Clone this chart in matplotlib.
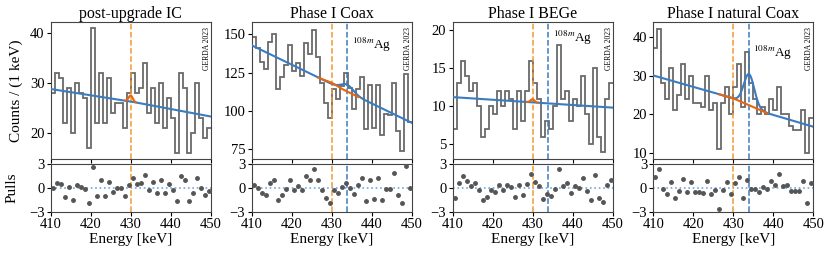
import numpy as np
import matplotlib.pyplot as plt

plt.rcParams['font.family'] = ['Liberation Serif', 'DejaVu Serif']
plt.rcParams['mathtext.fontset'] = 'stix'

# ---- data ----
edges = np.arange(410, 451, 1)
centers = edges[:-1] + 0.5

titles = ["post-upgrade IC", "Phase I Coax", "Phase I BEGe", "Phase I natural Coax"]

counts_ic = [28, 32, 31, 22, 29, 20, 30, 28, 27, 17, 41, 22, 32, 22, 31, 24, 26, 26, 21, 28,
             32, 28, 29, 34, 24, 29, 22, 30, 21, 27, 23, 16, 32, 29, 16, 20, 30, 23, 19, 21]
counts_coax = [148, 141, 132, 127, 145, 150, 114, 122, 130, 143, 126, 131, 123, 144, 137, 153, 135, 118, 105, 95,
               114, 108, 116, 125, 115, 101, 114, 122, 88, 117, 89, 117, 84, 98, 97, 118, 87, 74, 124, 93]
counts_bege = [7, 13, 16, 14, 12, 13, 10, 6, 7, 10, 9, 12, 10, 12, 11, 7, 12, 8, 12, 16,
               13, 11, 6, 8, 7, 10, 18, 11, 12, 8, 11, 10, 14, 9, 5, 15, 6, 4, 11, 13]
counts_nat = [37, 42, 28, 24, 32, 21, 25, 33, 24, 30, 23, 23, 22, 30, 21, 23, 11, 23, 27, 20,
              27, 33, 22, 36, 28, 24, 20, 22, 20, 24, 21, 27, 20, 20, 17, 16, 16, 21, 10, 19]

pulls_ic = [-0.04, 0.68, 0.51, -1.11, 0.17, -1.44, 0.42, 0.09, -0.09, -1.86, 2.57, -0.94, 0.94, -0.94, 0.80,
            -0.47, -0.04, -0.04, -0.97, 0.42, 1.19, 0.51, 0.68, 1.68, -0.21, 0.77, -0.59, 0.97, -0.68, 0.55,
            -0.30, -1.65, 1.53, 0.97, -1.58, -0.68, 1.27, -0.04, -0.85, -0.42]
pulls_coax = [0.42, 0.04, -0.59, -0.85, 0.59, 1.06, -1.53, -0.85, -0.12, 0.94, -0.30, 0.21, -0.30, 1.49, 0.97,
              2.34, 1.02, -0.21, -1.19, -1.86, -0.26, -0.64, 0.17, 0.64, 0.04, -0.81, 0.42, 1.23, -1.62, 0.97,
              -1.33, 1.23, -1.53, -0.17, -0.17, 1.82, -0.89, -1.91, 2.72, 0.0]
pulls_bege = [-1.2, 0.6, 1.5, 0.9, 0.3, 0.6, -0.3, -1.46, -1.1, -0.2, -0.55, 0.4, -0.26, 0.43, 0.17,
              -1.1, 0.43, -0.86, 0.47, 1.7, 0.77, 0.2, -1.33, -0.7, -1.0, -0.1, 2.4, 0.26, 0.64, -0.6,
              0.26, 0.0, 1.24, -0.39, -1.55, 1.6, -1.24, -1.8, 0.4, 1.03]
pulls_nat = [1.37, 2.36, -0.13, -0.8, 0.73, -1.24, -0.43, 1.1, -0.5, 0.7, -0.55, -0.55, -0.6, 0.9, -0.77,
             -0.3, -2.66, -0.2, 0.7, -0.7, 0.64, 1.4, -1.2, 1.03, -0.17, -0.17, -0.5, 0.13, -0.1, 0.9,
             0.34, 1.76, 0.3, 0.34, -0.39, -0.39, -0.39, 0.9, -1.85, 0.64]

# fitted model (background knots + gaussian peaks)
bkg_e = [[410, 430, 450], [410, 450], [410, 450], [410, 430, 438.5, 450]]
bkg_v = [[28.8, 26.3, 23.3], [142.8, 92.2], [11.2, 9.82], [30.0, 24.1, 20.3, 16.8]]
sig_amp = [1.2, 0.8, 0.4, 0.0]
sig_width = [0.5, 1.3, 0.5, 1.3]
ag_amp = [0.0, 4.5, 0.0, 8.0]
ag_width = [1.5, 1.5, 1.5, 1.3]
orange_window = [(428.7, 431.3), (426.7, 436.7), (428.7, 431.3), (426.5, 438.5)]
has_ag = [False, True, True, True]
ag_label_y = [None, 0.835, 0.886, 0.776]

ylims = [(14.8, 42.1), (68.5, 157.7), (3.07, 21.0), (8.5, 43.65)]
yticks = [[20, 30, 40], [75, 100, 125, 150], [5, 10, 15, 20], [10, 20, 30, 40]]

all_counts = [counts_ic, counts_coax, counts_bege, counts_nat]
all_pulls = [pulls_ic, pulls_coax, pulls_bege, pulls_nat]

E_SIG = 430.0
E_AG = 433.9

c_hist = '#6a6a6a'
c_blue = '#3a7cc0'
c_orange = '#e8650e'
c_dash_or = '#f29a2e'
c_dash_bl = '#3a7cc0'

fig = plt.figure(figsize=(8.31, 2.58), dpi=100)
W, H = 831.0, 258.0

for i in range(4):
    left = (50.7 + 200.9 * i) / W
    ax = fig.add_axes([left, 1 - 159 / H, 160 / W, (159 - 22.5) / H])
    axp = fig.add_axes([left, 1 - 212 / H, 160 / W, 48 / H])

    ax.stairs(all_counts[i], edges, baseline=None, color=c_hist, lw=1.3)

    e = np.linspace(410, 450, 801)
    bkg = np.interp(e, bkg_e[i], bkg_v[i])
    blue = bkg + ag_amp[i] * np.exp(-0.5 * ((e - E_AG) / ag_width[i]) ** 2)
    orange = bkg + sig_amp[i] * np.exp(-0.5 * ((e - E_SIG) / sig_width[i]) ** 2)
    lo, hi = orange_window[i]
    m = (e >= lo) & (e <= hi)
    ax.plot(e, blue, color=c_blue, lw=1.5, zorder=3)
    ax.plot(e[m], orange[m], color=c_orange, lw=1.5, zorder=4)

    for a in (ax, axp):
        a.axvline(E_SIG, color=c_dash_or, ls='--', lw=1.1, zorder=2)
        if has_ag[i]:
            a.axvline(E_AG, color=c_dash_bl, ls='--', lw=1.1, zorder=2)
        a.set_xlim(410, 450)
        a.set_xticks([410, 420, 430, 440, 450])
        a.tick_params(direction='out', length=3, labelsize=10.5, pad=1.5)
        for s in a.spines.values():
            s.set_color('#444444')

    ax.set_ylim(*ylims[i])
    ax.set_yticks(yticks[i])
    ax.tick_params(labelbottom=False)
    ax.set_title(titles[i], fontsize=11.5, pad=3)
    ax.text(0.975, 0.965, "GERDA 2023", transform=ax.transAxes, rotation=90,
            ha='center', va='top', fontsize=5.5)
    if has_ag[i]:
        ax.text(0.625, ag_label_y[i], r'$^{108m}$Ag', transform=ax.transAxes,
                ha='left', va='center', fontsize=9.5)

    axp.axhline(0, color='#6fa8dc', ls=':', lw=1.2, zorder=1)
    axp.plot(centers, all_pulls[i], 'o', color='#555555', ms=2.5, zorder=3)
    axp.set_ylim(-3, 3)
    axp.set_yticks([-3, 0, 3])
    axp.set_yticklabels(['\u22123', '0', '3'])
    axp.set_xlabel("Energy [keV]", fontsize=11, labelpad=1)

    if i == 0:
        ax.set_ylabel("Counts / (1 keV)", fontsize=11)
        ax.yaxis.set_label_coords(-0.17, 0.5)
        axp.set_ylabel("Pulls", fontsize=11)
        axp.yaxis.set_label_coords(-0.2, 0.5)

fig.savefig("out.png", dpi=100)
